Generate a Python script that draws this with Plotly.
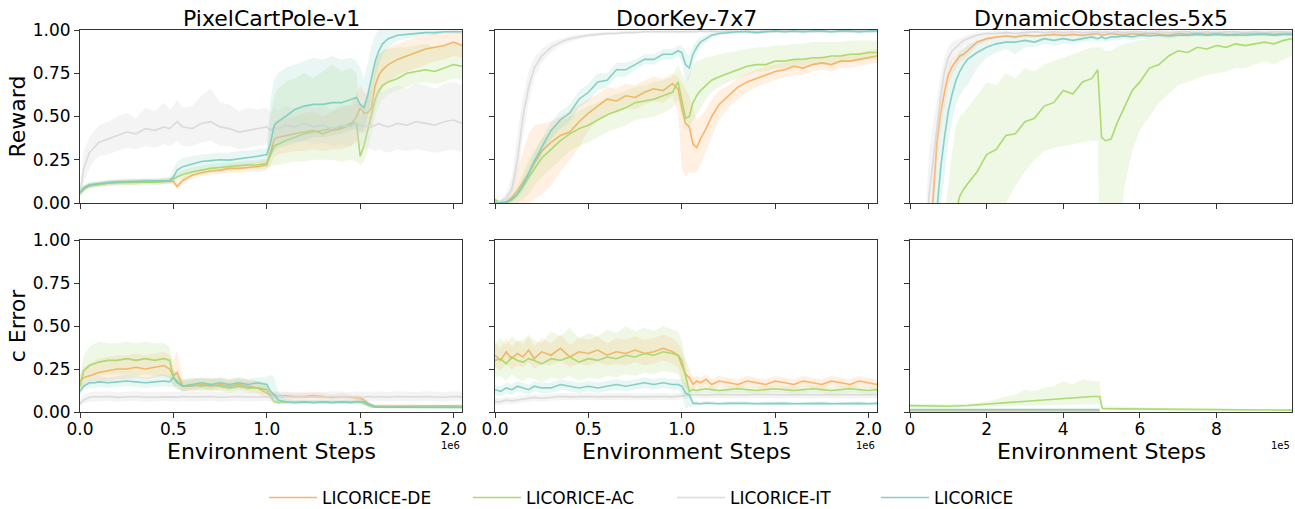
import plotly.graph_objects as go
from plotly.subplots import make_subplots

# ---------------- series names / colours ----------------
SERIES = ["LICORICE-DE", "LICORICE-AC", "LICORICE-IT", "LICORICE"]
COLORS = {"LICORICE-DE": (253, 174, 97), "LICORICE-AC": (166, 217, 106),
          "LICORICE-IT": (217, 217, 217), "LICORICE": (128, 205, 193)}
TITLES = ["PixelCartPole-v1", "DoorKey-7x7", "DynamicObstacles-5x5"]

# ---------------- PixelCartPole (x in 1e6 steps) ----------------
CP_X = [0, 0.02, 0.05, 0.08, 0.1, 0.15, 0.2, 0.25, 0.3, 0.35,
        0.4, 0.45, 0.48, 0.5, 0.52, 0.55, 0.6, 0.65, 0.7, 0.75,
        0.8, 0.85, 0.9, 0.95, 1.0, 1.02, 1.04, 1.06, 1.1, 1.15,
        1.2, 1.25, 1.3, 1.35, 1.4, 1.45, 1.48, 1.5, 1.52, 1.54,
        1.56, 1.58, 1.6, 1.62, 1.65, 1.7, 1.75, 1.8, 1.85, 1.9,
        1.95, 2.0, 2.045]

CP_R_DE = [0.06, 0.08, 0.10, 0.105, 0.11, 0.115, 0.12, 0.118, 0.12, 0.125,
           0.122, 0.125, 0.128, 0.125, 0.095, 0.13, 0.16, 0.175, 0.185, 0.19,
           0.20, 0.20, 0.205, 0.21, 0.22, 0.30, 0.37, 0.38, 0.39, 0.40,
           0.41, 0.42, 0.40, 0.42, 0.43, 0.45, 0.50, 0.55, 0.52, 0.52,
           0.55, 0.68, 0.74, 0.77, 0.80, 0.83, 0.85, 0.87, 0.89, 0.90,
           0.91, 0.93, 0.91]
CP_R_DE_LO = [0.05, 0.065, 0.085, 0.09, 0.095, 0.10, 0.105, 0.102, 0.105, 0.11,
              0.107, 0.11, 0.112, 0.105, 0.08, 0.11, 0.14, 0.155, 0.165, 0.17,
              0.175, 0.175, 0.18, 0.185, 0.19, 0.22, 0.27, 0.28, 0.29, 0.30,
              0.30, 0.31, 0.30, 0.31, 0.31, 0.33, 0.36, 0.42, 0.40, 0.41,
              0.44, 0.55, 0.62, 0.66, 0.70, 0.74, 0.76, 0.78, 0.80, 0.82,
              0.83, 0.85, 0.84]
CP_R_DE_HI = [0.07, 0.095, 0.115, 0.12, 0.125, 0.13, 0.135, 0.134, 0.135, 0.14,
              0.137, 0.14, 0.144, 0.15, 0.12, 0.15, 0.18, 0.195, 0.205, 0.21,
              0.225, 0.225, 0.23, 0.235, 0.25, 0.38, 0.47, 0.48, 0.49, 0.50,
              0.52, 0.53, 0.50, 0.53, 0.55, 0.57, 0.63, 0.68, 0.64, 0.63,
              0.66, 0.80, 0.86, 0.88, 0.90, 0.92, 0.94, 0.96, 0.97, 0.98,
              0.99, 1.00, 0.99]
CP_R_AC = [0.05, 0.08, 0.10, 0.105, 0.11, 0.115, 0.118, 0.12, 0.118, 0.122,
           0.12, 0.125, 0.13, 0.14, 0.15, 0.165, 0.18, 0.19, 0.20, 0.205,
           0.21, 0.215, 0.22, 0.22, 0.23, 0.28, 0.33, 0.34, 0.36, 0.38,
           0.40, 0.41, 0.42, 0.43, 0.44, 0.46, 0.46, 0.27, 0.33, 0.42,
           0.52, 0.60, 0.65, 0.68, 0.70, 0.72, 0.75, 0.76, 0.77, 0.76,
           0.78, 0.80, 0.79]
CP_R_AC_LO = [0.04, 0.065, 0.085, 0.09, 0.095, 0.10, 0.10, 0.102, 0.10, 0.104,
              0.102, 0.106, 0.11, 0.12, 0.13, 0.14, 0.155, 0.165, 0.175, 0.18,
              0.185, 0.19, 0.195, 0.195, 0.20, 0.21, 0.22, 0.22, 0.23, 0.24,
              0.24, 0.25, 0.25, 0.25, 0.24, 0.25, 0.24, 0.22, 0.24, 0.30,
              0.40, 0.50, 0.56, 0.60, 0.63, 0.65, 0.67, 0.69, 0.70, 0.69,
              0.70, 0.72, 0.71]
CP_R_AC_HI = [0.06, 0.095, 0.115, 0.12, 0.125, 0.13, 0.136, 0.138, 0.136, 0.14,
              0.138, 0.144, 0.15, 0.16, 0.17, 0.19, 0.205, 0.215, 0.225, 0.23,
              0.235, 0.24, 0.245, 0.245, 0.26, 0.50, 0.62, 0.66, 0.70, 0.72,
              0.75, 0.72, 0.76, 0.80, 0.76, 0.78, 0.75, 0.50, 0.55, 0.65,
              0.75, 0.82, 0.86, 0.88, 0.89, 0.90, 0.90, 0.91, 0.92, 0.90,
              0.91, 0.93, 0.92]
CP_R_IT = [0.05, 0.20, 0.29, 0.33, 0.35, 0.37, 0.39, 0.41, 0.40, 0.43,
           0.42, 0.44, 0.43, 0.45, 0.47, 0.44, 0.43, 0.46, 0.47, 0.44,
           0.43, 0.41, 0.42, 0.43, 0.44, 0.42, 0.44, 0.43, 0.45, 0.44,
           0.46, 0.44, 0.45, 0.43, 0.45, 0.44, 0.46, 0.45, 0.44, 0.45,
           0.44, 0.45, 0.46, 0.45, 0.44, 0.46, 0.45, 0.47, 0.46, 0.45,
           0.47, 0.48, 0.46]
CP_R_IT_LO = [0.03, 0.12, 0.20, 0.25, 0.27, 0.28, 0.30, 0.32, 0.31, 0.33,
              0.32, 0.34, 0.33, 0.34, 0.36, 0.33, 0.33, 0.35, 0.36, 0.33,
              0.33, 0.31, 0.32, 0.33, 0.34, 0.33, 0.35, 0.34, 0.36, 0.35,
              0.36, 0.34, 0.35, 0.33, 0.34, 0.33, 0.35, 0.33, 0.31, 0.32,
              0.31, 0.30, 0.31, 0.30, 0.29, 0.31, 0.30, 0.31, 0.30, 0.29,
              0.30, 0.31, 0.29]
CP_R_IT_HI = [0.07, 0.30, 0.38, 0.42, 0.45, 0.47, 0.50, 0.52, 0.49, 0.55,
              0.53, 0.58, 0.54, 0.56, 0.60, 0.55, 0.56, 0.62, 0.66, 0.58,
              0.57, 0.53, 0.55, 0.54, 0.55, 0.52, 0.55, 0.53, 0.56, 0.54,
              0.57, 0.55, 0.56, 0.54, 0.57, 0.56, 0.58, 0.57, 0.58, 0.60,
              0.62, 0.63, 0.65, 0.64, 0.66, 0.68, 0.66, 0.69, 0.68, 0.66,
              0.69, 0.70, 0.68]
CP_R_LIC = [0.06, 0.09, 0.105, 0.11, 0.115, 0.12, 0.122, 0.125, 0.125, 0.127,
            0.128, 0.13, 0.13, 0.15, 0.19, 0.21, 0.225, 0.24, 0.245, 0.25,
            0.248, 0.255, 0.26, 0.27, 0.28, 0.35, 0.45, 0.47, 0.50, 0.54,
            0.56, 0.57, 0.57, 0.58, 0.58, 0.60, 0.61, 0.57, 0.55, 0.62,
            0.72, 0.82, 0.88, 0.92, 0.95, 0.97, 0.975, 0.98, 0.985, 0.985,
            0.99, 0.99, 0.99]
CP_R_LIC_LO = [0.05, 0.075, 0.09, 0.095, 0.10, 0.105, 0.107, 0.11, 0.11, 0.112,
               0.113, 0.115, 0.115, 0.12, 0.15, 0.17, 0.19, 0.20, 0.205, 0.21,
               0.21, 0.215, 0.22, 0.23, 0.24, 0.27, 0.30, 0.32, 0.33, 0.35,
               0.36, 0.38, 0.38, 0.39, 0.40, 0.42, 0.43, 0.40, 0.42, 0.50,
               0.60, 0.72, 0.80, 0.86, 0.90, 0.94, 0.95, 0.96, 0.97, 0.97,
               0.98, 0.98, 0.98]
CP_R_LIC_HI = [0.07, 0.105, 0.12, 0.125, 0.13, 0.135, 0.137, 0.14, 0.14, 0.142,
               0.143, 0.145, 0.145, 0.20, 0.24, 0.26, 0.27, 0.28, 0.285, 0.29,
               0.29, 0.30, 0.30, 0.31, 0.32, 0.60, 0.72, 0.75, 0.78, 0.80,
               0.82, 0.84, 0.83, 0.85, 0.83, 0.84, 0.82, 0.78, 0.72, 0.80,
               0.90, 0.97, 1.0, 1.0, 1.0, 1.0, 1.0, 1.0, 1.0, 1.0,
               1.0, 1.0, 1.0]

CP_E_DE = [0.18, 0.20, 0.21, 0.22, 0.23, 0.24, 0.25, 0.25, 0.26, 0.25,
           0.26, 0.27, 0.25, 0.21, 0.23, 0.15, 0.15, 0.16, 0.15, 0.16,
           0.15, 0.16, 0.15, 0.14, 0.11, 0.10, 0.10, 0.09, 0.095, 0.09,
           0.09, 0.095, 0.09, 0.085, 0.09, 0.085, 0.08, 0.08, 0.07, 0.05,
           0.04, 0.035, 0.035, 0.036, 0.035, 0.034, 0.035, 0.036, 0.035, 0.034,
           0.035, 0.036, 0.035]
CP_E_DE_LO = [0.14, 0.15, 0.16, 0.17, 0.17, 0.18, 0.19, 0.19, 0.20, 0.19,
              0.20, 0.21, 0.19, 0.15, 0.15, 0.12, 0.12, 0.13, 0.12, 0.13,
              0.12, 0.13, 0.12, 0.11, 0.08, 0.08, 0.08, 0.075, 0.08, 0.075,
              0.075, 0.08, 0.075, 0.07, 0.075, 0.07, 0.065, 0.065, 0.055, 0.04,
              0.03, 0.027, 0.027, 0.028, 0.027, 0.026, 0.027, 0.028, 0.027, 0.026,
              0.027, 0.028, 0.027]
CP_E_DE_HI = [0.22, 0.26, 0.28, 0.30, 0.31, 0.32, 0.33, 0.33, 0.34, 0.33,
              0.34, 0.35, 0.33, 0.30, 0.36, 0.19, 0.19, 0.20, 0.19, 0.20,
              0.19, 0.20, 0.19, 0.18, 0.15, 0.12, 0.12, 0.11, 0.115, 0.11,
              0.11, 0.115, 0.11, 0.10, 0.11, 0.10, 0.095, 0.095, 0.085, 0.065,
              0.05, 0.045, 0.045, 0.046, 0.045, 0.044, 0.045, 0.046, 0.045, 0.044,
              0.045, 0.046, 0.045]
CP_E_AC = [0.15, 0.24, 0.27, 0.28, 0.29, 0.30, 0.30, 0.31, 0.30, 0.31,
           0.30, 0.31, 0.30, 0.20, 0.18, 0.15, 0.16, 0.15, 0.16, 0.15,
           0.14, 0.15, 0.14, 0.14, 0.13, 0.09, 0.06, 0.055, 0.06, 0.055,
           0.06, 0.055, 0.06, 0.055, 0.06, 0.055, 0.06, 0.06, 0.05, 0.04,
           0.03, 0.028, 0.028, 0.027, 0.028, 0.027, 0.028, 0.027, 0.028, 0.027,
           0.028, 0.027, 0.028]
CP_E_AC_LO = [0.10, 0.18, 0.20, 0.21, 0.21, 0.22, 0.22, 0.22, 0.21, 0.22,
              0.21, 0.21, 0.20, 0.15, 0.14, 0.12, 0.13, 0.12, 0.13, 0.12,
              0.11, 0.12, 0.11, 0.11, 0.10, 0.07, 0.045, 0.045, 0.048, 0.045,
              0.048, 0.045, 0.048, 0.045, 0.048, 0.045, 0.048, 0.048, 0.04, 0.03,
              0.022, 0.02, 0.02, 0.02, 0.02, 0.02, 0.02, 0.02, 0.02, 0.02,
              0.02, 0.02, 0.02]
CP_E_AC_HI = [0.20, 0.33, 0.38, 0.40, 0.41, 0.40, 0.40, 0.41, 0.40, 0.41,
              0.40, 0.40, 0.38, 0.25, 0.22, 0.19, 0.20, 0.19, 0.20, 0.19,
              0.18, 0.19, 0.18, 0.18, 0.17, 0.12, 0.075, 0.07, 0.072, 0.068,
              0.072, 0.068, 0.072, 0.068, 0.072, 0.068, 0.072, 0.075, 0.065, 0.05,
              0.038, 0.035, 0.035, 0.034, 0.035, 0.034, 0.035, 0.034, 0.035, 0.034,
              0.035, 0.034, 0.035]
CP_E_IT = [0.05, 0.07, 0.085, 0.09, 0.088, 0.09, 0.085, 0.088, 0.09, 0.086,
           0.088, 0.09, 0.087, 0.088, 0.086, 0.09, 0.087, 0.088, 0.09, 0.086,
           0.088, 0.09, 0.087, 0.088, 0.09, 0.088, 0.086, 0.09, 0.088, 0.087,
           0.09, 0.088, 0.086, 0.09, 0.088, 0.087, 0.09, 0.088, 0.086, 0.09,
           0.088, 0.087, 0.09, 0.088, 0.086, 0.09, 0.088, 0.087, 0.09, 0.088,
           0.086, 0.09, 0.088]
CP_E_IT_LO = [0.03, 0.05, 0.06, 0.065, 0.062, 0.065, 0.06, 0.062, 0.065, 0.06,
              0.062, 0.065, 0.061, 0.062, 0.06, 0.065, 0.061, 0.062, 0.065, 0.06,
              0.062, 0.065, 0.061, 0.062, 0.065, 0.062, 0.06, 0.065, 0.062, 0.061,
              0.065, 0.062, 0.06, 0.065, 0.062, 0.061, 0.065, 0.062, 0.06, 0.065,
              0.062, 0.061, 0.065, 0.062, 0.06, 0.065, 0.062, 0.061, 0.065, 0.062,
              0.06, 0.065, 0.062]
CP_E_IT_HI = [0.07, 0.10, 0.115, 0.12, 0.118, 0.12, 0.115, 0.118, 0.12, 0.116,
              0.118, 0.12, 0.117, 0.118, 0.116, 0.12, 0.117, 0.118, 0.12, 0.116,
              0.118, 0.12, 0.117, 0.118, 0.12, 0.118, 0.116, 0.12, 0.118, 0.117,
              0.12, 0.118, 0.116, 0.12, 0.118, 0.117, 0.12, 0.118, 0.116, 0.12,
              0.118, 0.117, 0.12, 0.118, 0.116, 0.12, 0.118, 0.117, 0.12, 0.118,
              0.116, 0.12, 0.118]
CP_E_LIC = [0.12, 0.15, 0.17, 0.17, 0.175, 0.17, 0.175, 0.18, 0.175, 0.17,
            0.175, 0.18, 0.175, 0.20, 0.17, 0.15, 0.16, 0.17, 0.16, 0.17,
            0.16, 0.17, 0.16, 0.17, 0.16, 0.12, 0.10, 0.07, 0.06, 0.055,
            0.058, 0.055, 0.058, 0.055, 0.058, 0.056, 0.06, 0.06, 0.06, 0.05,
            0.04, 0.03, 0.028, 0.028, 0.027, 0.028, 0.027, 0.028, 0.027, 0.028,
            0.027, 0.028, 0.027]
CP_E_LIC_LO = [0.10, 0.13, 0.14, 0.14, 0.145, 0.14, 0.145, 0.15, 0.145, 0.14,
               0.145, 0.15, 0.145, 0.15, 0.13, 0.12, 0.13, 0.14, 0.13, 0.14,
               0.13, 0.14, 0.13, 0.14, 0.12, 0.08, 0.07, 0.05, 0.045, 0.045,
               0.047, 0.045, 0.047, 0.045, 0.047, 0.045, 0.048, 0.048, 0.045, 0.035,
               0.03, 0.022, 0.02, 0.02, 0.02, 0.02, 0.02, 0.02, 0.02, 0.02,
               0.02, 0.02, 0.02]
CP_E_LIC_HI = [0.14, 0.18, 0.20, 0.21, 0.21, 0.20, 0.21, 0.22, 0.21, 0.20,
               0.21, 0.22, 0.21, 0.25, 0.21, 0.18, 0.19, 0.20, 0.19, 0.20,
               0.19, 0.20, 0.19, 0.20, 0.20, 0.22, 0.20, 0.12, 0.08, 0.07,
               0.07, 0.068, 0.07, 0.068, 0.07, 0.068, 0.072, 0.075, 0.075, 0.065,
               0.05, 0.038, 0.035, 0.035, 0.034, 0.035, 0.034, 0.035, 0.034, 0.035,
               0.034, 0.035, 0.034]

# ---------------- DoorKey (x in 1e6 steps) ----------------
DK_X = [0, 0.03, 0.06, 0.09, 0.12, 0.15, 0.18, 0.21, 0.25, 0.3,
        0.35, 0.4, 0.45, 0.5, 0.55, 0.6, 0.65, 0.7, 0.75, 0.8,
        0.85, 0.9, 0.95, 0.98, 1.0, 1.02, 1.04, 1.06, 1.08, 1.1,
        1.13, 1.16, 1.2, 1.25, 1.3, 1.35, 1.4, 1.45, 1.5, 1.55,
        1.6, 1.65, 1.7, 1.75, 1.8, 1.85, 1.9, 1.95, 2.0, 2.045]

DK_R_DE = [0.01, 0.0, 0.005, 0.03, 0.07, 0.12, 0.17, 0.23, 0.30, 0.35,
           0.39, 0.41, 0.47, 0.52, 0.56, 0.60, 0.59, 0.62, 0.61, 0.64,
           0.66, 0.65, 0.69, 0.66, 0.55, 0.46, 0.44, 0.34, 0.32, 0.37,
           0.43, 0.50, 0.57, 0.62, 0.67, 0.70, 0.72, 0.74, 0.76, 0.77,
           0.79, 0.78, 0.80, 0.81, 0.80, 0.82, 0.82, 0.83, 0.84, 0.85]
DK_R_DE_LO = [0.0, 0.0, 0.0, 0.0, 0.0, 0.0, 0.0, 0.02, 0.05, 0.10,
              0.18, 0.25, 0.32, 0.42, 0.48, 0.52, 0.52, 0.55, 0.54, 0.57,
              0.59, 0.58, 0.62, 0.52, 0.20, 0.15, 0.18, 0.17, 0.18, 0.22,
              0.30, 0.38, 0.48, 0.55, 0.60, 0.64, 0.67, 0.69, 0.71, 0.73,
              0.74, 0.74, 0.76, 0.77, 0.76, 0.78, 0.78, 0.79, 0.80, 0.81]
DK_R_DE_HI = [0.02, 0.01, 0.03, 0.10, 0.20, 0.30, 0.40, 0.45, 0.46, 0.47,
              0.50, 0.53, 0.57, 0.60, 0.63, 0.67, 0.66, 0.69, 0.68, 0.71,
              0.73, 0.72, 0.75, 0.73, 0.70, 0.66, 0.62, 0.55, 0.48, 0.50,
              0.54, 0.60, 0.65, 0.68, 0.72, 0.75, 0.77, 0.79, 0.80, 0.81,
              0.83, 0.82, 0.84, 0.85, 0.84, 0.86, 0.86, 0.87, 0.88, 0.89]
DK_R_AC = [0.02, 0.0, 0.0, 0.02, 0.05, 0.10, 0.15, 0.20, 0.26, 0.31,
           0.36, 0.40, 0.43, 0.45, 0.48, 0.51, 0.53, 0.55, 0.58, 0.59,
           0.60, 0.62, 0.64, 0.70, 0.60, 0.49, 0.50, 0.58, 0.62, 0.65,
           0.68, 0.71, 0.73, 0.75, 0.77, 0.79, 0.80, 0.80, 0.82, 0.82,
           0.83, 0.83, 0.84, 0.84, 0.85, 0.85, 0.86, 0.86, 0.87, 0.87]
DK_R_AC_LO = [0.0, 0.0, 0.0, 0.0, 0.0, 0.02, 0.05, 0.10, 0.15, 0.20,
              0.25, 0.30, 0.33, 0.35, 0.38, 0.41, 0.43, 0.45, 0.48, 0.49,
              0.50, 0.52, 0.55, 0.60, 0.50, 0.42, 0.43, 0.48, 0.52, 0.55,
              0.60, 0.64, 0.67, 0.70, 0.72, 0.74, 0.76, 0.76, 0.78, 0.78,
              0.79, 0.79, 0.80, 0.80, 0.81, 0.81, 0.82, 0.82, 0.83, 0.83]
DK_R_AC_HI = [0.03, 0.01, 0.01, 0.05, 0.10, 0.18, 0.25, 0.30, 0.37, 0.42,
              0.47, 0.50, 0.53, 0.56, 0.58, 0.61, 0.63, 0.65, 0.67, 0.68,
              0.70, 0.71, 0.73, 0.80, 0.75, 0.70, 0.74, 0.80, 0.82, 0.83,
              0.84, 0.85, 0.86, 0.87, 0.88, 0.89, 0.90, 0.90, 0.91, 0.91,
              0.92, 0.92, 0.93, 0.93, 0.93, 0.93, 0.94, 0.94, 0.94, 0.94]
DK_R_IT = [0.0, 0.01, 0.03, 0.08, 0.25, 0.50, 0.67, 0.78, 0.85, 0.90,
           0.93, 0.95, 0.96, 0.97, 0.975, 0.98, 0.98, 0.985, 0.985, 0.99,
           0.99, 0.99, 0.99, 0.99, 0.99, 0.99, 0.99, 0.99, 0.99, 0.995,
           0.99, 0.995, 0.99, 0.995, 0.99, 0.995, 0.99, 0.995, 0.99, 0.995,
           0.99, 0.995, 0.99, 0.995, 0.99, 0.995, 0.99, 0.995, 0.99, 0.995]
DK_R_IT_LO = [0.0, 0.0, 0.01, 0.04, 0.15, 0.38, 0.58, 0.72, 0.81, 0.87,
              0.91, 0.93, 0.95, 0.96, 0.965, 0.97, 0.975, 0.98, 0.98, 0.985,
              0.985, 0.98, 0.985, 0.98, 0.985, 0.98, 0.985, 0.98, 0.985, 0.98,
              0.985, 0.98, 0.985, 0.98, 0.985, 0.98, 0.985, 0.98, 0.985, 0.98,
              0.985, 0.98, 0.985, 0.98, 0.985, 0.98, 0.985, 0.98, 0.985, 0.98]
DK_R_IT_HI = [0.01, 0.02, 0.06, 0.15, 0.40, 0.62, 0.76, 0.84, 0.89, 0.93,
              0.95, 0.965, 0.975, 0.98, 0.985, 0.99, 0.99, 0.995, 0.995, 1.0,
              1.0, 1.0, 1.0, 1.0, 1.0, 1.0, 1.0, 1.0, 1.0, 1.0,
              1.0, 1.0, 1.0, 1.0, 1.0, 1.0, 1.0, 1.0, 1.0, 1.0,
              1.0, 1.0, 1.0, 1.0, 1.0, 1.0, 1.0, 1.0, 1.0, 1.0]
DK_R_LIC = [0.0, 0.0, 0.005, 0.02, 0.05, 0.10, 0.17, 0.24, 0.32, 0.42,
            0.48, 0.52, 0.60, 0.64, 0.70, 0.71, 0.77, 0.77, 0.80, 0.83,
            0.83, 0.86, 0.86, 0.88, 0.87, 0.80, 0.78, 0.86, 0.90, 0.93,
            0.95, 0.97, 0.98, 0.985, 0.99, 0.99, 0.985, 0.99, 0.995, 0.99,
            0.995, 0.99, 0.995, 0.995, 0.99, 0.995, 0.995, 0.99, 0.995, 0.995]
DK_R_LIC_LO = [0.0, 0.0, 0.0, 0.005, 0.03, 0.07, 0.13, 0.20, 0.28, 0.37,
               0.43, 0.47, 0.55, 0.59, 0.65, 0.67, 0.73, 0.73, 0.77, 0.80,
               0.80, 0.83, 0.83, 0.85, 0.82, 0.70, 0.72, 0.80, 0.86, 0.90,
               0.93, 0.955, 0.97, 0.975, 0.98, 0.98, 0.975, 0.98, 0.985, 0.98,
               0.985, 0.98, 0.985, 0.985, 0.98, 0.985, 0.985, 0.98, 0.985, 0.985]
DK_R_LIC_HI = [0.005, 0.01, 0.02, 0.04, 0.08, 0.14, 0.21, 0.29, 0.37, 0.47,
               0.53, 0.57, 0.65, 0.69, 0.75, 0.75, 0.81, 0.81, 0.83, 0.86,
               0.86, 0.89, 0.89, 0.91, 0.91, 0.88, 0.85, 0.91, 0.94, 0.96,
               0.97, 0.985, 0.99, 0.995, 1.0, 1.0, 0.995, 1.0, 1.0, 1.0,
               1.0, 1.0, 1.0, 1.0, 1.0, 1.0, 1.0, 1.0, 1.0, 1.0]

DK_E_DE = [0.33, 0.30, 0.35, 0.31, 0.34, 0.32, 0.36, 0.31, 0.35, 0.33,
           0.37, 0.32, 0.35, 0.34, 0.36, 0.33, 0.35, 0.34, 0.36, 0.34,
           0.35, 0.37, 0.35, 0.33, 0.27, 0.22, 0.20, 0.16, 0.18, 0.17,
           0.19, 0.16, 0.18, 0.17, 0.16, 0.18, 0.17, 0.16, 0.18, 0.17,
           0.16, 0.18, 0.17, 0.16, 0.18, 0.17, 0.16, 0.18, 0.17, 0.16]
DK_E_DE_LO = [0.26, 0.24, 0.28, 0.25, 0.27, 0.26, 0.29, 0.25, 0.28, 0.27,
              0.30, 0.26, 0.28, 0.27, 0.29, 0.27, 0.28, 0.27, 0.29, 0.27,
              0.28, 0.30, 0.28, 0.26, 0.18, 0.14, 0.13, 0.13, 0.15, 0.14,
              0.16, 0.13, 0.15, 0.14, 0.13, 0.15, 0.14, 0.13, 0.15, 0.14,
              0.13, 0.15, 0.14, 0.13, 0.15, 0.14, 0.13, 0.15, 0.14, 0.13]
DK_E_DE_HI = [0.40, 0.37, 0.43, 0.38, 0.42, 0.39, 0.44, 0.38, 0.43, 0.40,
              0.45, 0.39, 0.43, 0.42, 0.44, 0.40, 0.43, 0.42, 0.44, 0.42,
              0.43, 0.45, 0.43, 0.40, 0.36, 0.30, 0.26, 0.20, 0.21, 0.20,
              0.22, 0.19, 0.21, 0.20, 0.19, 0.21, 0.20, 0.19, 0.21, 0.20,
              0.19, 0.21, 0.20, 0.19, 0.21, 0.20, 0.19, 0.21, 0.20, 0.19]
DK_E_AC = [0.30, 0.31, 0.28, 0.32, 0.30, 0.29, 0.31, 0.30, 0.28, 0.31,
           0.30, 0.32, 0.29, 0.31, 0.30, 0.32, 0.31, 0.33, 0.32, 0.34,
           0.33, 0.35, 0.34, 0.33, 0.30, 0.20, 0.12, 0.13, 0.125, 0.13,
           0.135, 0.13, 0.125, 0.13, 0.135, 0.13, 0.125, 0.13, 0.135, 0.13,
           0.125, 0.13, 0.135, 0.13, 0.125, 0.13, 0.135, 0.13, 0.125, 0.13]
DK_E_AC_LO = [0.20, 0.21, 0.18, 0.22, 0.19, 0.18, 0.20, 0.19, 0.17, 0.20,
              0.19, 0.21, 0.18, 0.20, 0.19, 0.21, 0.20, 0.22, 0.21, 0.23,
              0.22, 0.24, 0.23, 0.22, 0.18, 0.10, 0.10, 0.11, 0.105, 0.11,
              0.115, 0.11, 0.105, 0.11, 0.115, 0.11, 0.105, 0.11, 0.115, 0.11,
              0.105, 0.11, 0.115, 0.11, 0.105, 0.11, 0.115, 0.11, 0.105, 0.11]
DK_E_AC_HI = [0.40, 0.43, 0.39, 0.44, 0.41, 0.42, 0.45, 0.42, 0.40, 0.47,
              0.44, 0.49, 0.43, 0.46, 0.44, 0.48, 0.46, 0.50, 0.47, 0.49,
              0.47, 0.50, 0.48, 0.47, 0.42, 0.30, 0.15, 0.15, 0.145, 0.15,
              0.155, 0.15, 0.145, 0.15, 0.155, 0.15, 0.145, 0.15, 0.155, 0.15,
              0.145, 0.15, 0.155, 0.15, 0.145, 0.15, 0.155, 0.15, 0.145, 0.15]
DK_E_IT = [0.06, 0.06, 0.07, 0.065, 0.07, 0.075, 0.08, 0.085, 0.08, 0.085,
           0.09, 0.088, 0.09, 0.09, 0.088, 0.09, 0.092, 0.09, 0.088, 0.09,
           0.092, 0.09, 0.088, 0.09, 0.092, 0.095, 0.098, 0.10, 0.098, 0.10,
           0.098, 0.10, 0.102, 0.10, 0.098, 0.10, 0.102, 0.10, 0.098, 0.10,
           0.102, 0.10, 0.098, 0.10, 0.102, 0.10, 0.098, 0.10, 0.102, 0.10]
DK_E_IT_LO = [0.04, 0.04, 0.05, 0.045, 0.05, 0.055, 0.06, 0.065, 0.06, 0.065,
              0.07, 0.068, 0.07, 0.07, 0.068, 0.07, 0.072, 0.07, 0.068, 0.07,
              0.072, 0.07, 0.068, 0.07, 0.072, 0.075, 0.078, 0.08, 0.078, 0.08,
              0.078, 0.08, 0.082, 0.08, 0.078, 0.08, 0.082, 0.08, 0.078, 0.08,
              0.082, 0.08, 0.078, 0.08, 0.082, 0.08, 0.078, 0.08, 0.082, 0.08]
DK_E_IT_HI = [0.08, 0.08, 0.09, 0.085, 0.09, 0.095, 0.10, 0.105, 0.10, 0.105,
              0.11, 0.108, 0.11, 0.11, 0.108, 0.11, 0.112, 0.11, 0.108, 0.11,
              0.112, 0.11, 0.108, 0.11, 0.112, 0.115, 0.118, 0.12, 0.118, 0.12,
              0.118, 0.12, 0.122, 0.12, 0.118, 0.12, 0.122, 0.12, 0.118, 0.12,
              0.122, 0.12, 0.118, 0.12, 0.122, 0.12, 0.118, 0.12, 0.122, 0.12]
DK_E_LIC = [0.13, 0.12, 0.14, 0.13, 0.15, 0.14, 0.13, 0.15, 0.14, 0.14,
            0.16, 0.15, 0.14, 0.15, 0.14, 0.15, 0.16, 0.15, 0.16, 0.17,
            0.16, 0.17, 0.16, 0.16, 0.15, 0.11, 0.10, 0.05, 0.05, 0.048,
            0.052, 0.05, 0.048, 0.05, 0.052, 0.05, 0.048, 0.05, 0.052, 0.05,
            0.048, 0.05, 0.052, 0.05, 0.048, 0.05, 0.052, 0.05, 0.048, 0.05]
DK_E_LIC_LO = [0.10, 0.09, 0.11, 0.10, 0.12, 0.11, 0.10, 0.12, 0.11, 0.11,
               0.13, 0.12, 0.11, 0.12, 0.11, 0.12, 0.13, 0.12, 0.13, 0.14,
               0.13, 0.14, 0.13, 0.13, 0.11, 0.02, 0.03, 0.035, 0.038, 0.036,
               0.04, 0.038, 0.036, 0.038, 0.04, 0.038, 0.036, 0.038, 0.04, 0.038,
               0.036, 0.038, 0.04, 0.038, 0.036, 0.038, 0.04, 0.038, 0.036, 0.038]
DK_E_LIC_HI = [0.16, 0.15, 0.17, 0.16, 0.18, 0.17, 0.16, 0.18, 0.17, 0.17,
               0.19, 0.18, 0.17, 0.18, 0.17, 0.18, 0.19, 0.18, 0.19, 0.20,
               0.19, 0.20, 0.19, 0.19, 0.19, 0.16, 0.13, 0.065, 0.062, 0.06,
               0.064, 0.062, 0.06, 0.062, 0.064, 0.062, 0.06, 0.062, 0.064, 0.062,
               0.06, 0.062, 0.064, 0.062, 0.06, 0.062, 0.064, 0.062, 0.06, 0.062]

# ---------------- DynamicObstacles (x in 1e5 steps) ----------------
DO_X = [0, 0.25, 0.5, 0.6, 0.7, 0.8, 0.9, 1.0, 1.1, 1.2,
        1.3, 1.4, 1.5, 1.75, 2.0, 2.25, 2.5, 2.75, 3.0, 3.25,
        3.5, 3.75, 4.0, 4.25, 4.5, 4.75, 4.9, 5.0, 5.1, 5.25,
        5.4, 5.6, 5.8, 6.0, 6.25, 6.5, 6.75, 7.0, 7.25, 7.5,
        7.75, 8.0, 8.25, 8.5, 8.75, 9.0, 9.25, 9.5, 9.75, 9.97]

DO_R_DE = [-1.0, -0.95, -0.40, 0.02, 0.34, 0.52, 0.64, 0.74, 0.79, 0.82,
           0.85, 0.86, 0.88, 0.93, 0.95, 0.96, 0.965, 0.96, 0.97, 0.965,
           0.97, 0.975, 0.97, 0.975, 0.97, 0.975, 0.98, 0.97, 0.975, 0.98,
           0.975, 0.97, 0.98, 0.975, 0.98, 0.975, 0.97, 0.98, 0.975, 0.98,
           0.975, 0.98, 0.975, 0.97, 0.98, 0.975, 0.98, 0.975, 0.98, 0.975]
DO_R_DE_LO = [-1.0, -1.0, -0.60, -0.10, 0.20, 0.42, 0.56, 0.68, 0.74, 0.78,
              0.82, 0.83, 0.85, 0.91, 0.935, 0.95, 0.955, 0.95, 0.96, 0.955,
              0.96, 0.965, 0.96, 0.965, 0.96, 0.965, 0.97, 0.96, 0.965, 0.97,
              0.965, 0.96, 0.97, 0.965, 0.97, 0.965, 0.96, 0.97, 0.965, 0.97,
              0.965, 0.97, 0.965, 0.96, 0.97, 0.965, 0.97, 0.965, 0.97, 0.965]
DO_R_DE_HI = [-1.0, -0.85, -0.15, 0.15, 0.48, 0.62, 0.72, 0.80, 0.84, 0.86,
              0.88, 0.89, 0.91, 0.95, 0.965, 0.97, 0.975, 0.97, 0.98, 0.975,
              0.98, 0.985, 0.98, 0.985, 0.98, 0.985, 0.99, 0.98, 0.985, 0.99,
              0.985, 0.98, 0.99, 0.985, 0.99, 0.985, 0.98, 0.99, 0.985, 0.99,
              0.985, 0.99, 0.985, 0.98, 0.99, 0.985, 0.99, 0.985, 0.99, 0.985]
DO_R_AC = [-1.0, -1.0, -0.90, -0.80, -0.70, -0.60, -0.50, -0.35, -0.20, -0.05,
           0.04, 0.08, 0.11, 0.18, 0.28, 0.31, 0.39, 0.40, 0.47, 0.49,
           0.56, 0.58, 0.65, 0.63, 0.70, 0.72, 0.77, 0.38, 0.36, 0.37,
           0.46, 0.56, 0.65, 0.70, 0.78, 0.80, 0.85, 0.88, 0.87, 0.90,
           0.89, 0.91, 0.90, 0.92, 0.91, 0.92, 0.93, 0.92, 0.94, 0.95]
DO_R_AC_LO = [-1.0, -1.0, -1.0, -1.0, -1.0, -1.0, -1.0, -1.0, -1.0, -0.90,
              -0.80, -0.70, -0.60, -0.40, -0.25, -0.10, 0.0, 0.10, 0.18, 0.25,
              0.30, 0.32, 0.33, 0.34, 0.35, 0.36, 0.36, -1.0, -1.0, -1.0,
              -0.30, 0.10, 0.30, 0.42, 0.50, 0.58, 0.63, 0.68, 0.70, 0.72,
              0.74, 0.75, 0.76, 0.78, 0.78, 0.80, 0.82, 0.80, 0.83, 0.85]
DO_R_AC_HI = [-1.0, -0.90, -0.70, -0.50, -0.35, -0.20, -0.05, 0.10, 0.30, 0.45,
              0.50, 0.52, 0.55, 0.62, 0.70, 0.68, 0.75, 0.72, 0.78, 0.76,
              0.80, 0.82, 0.84, 0.86, 0.88, 0.90, 0.90, 0.90, 0.88, 0.88,
              0.90, 0.92, 0.93, 0.94, 0.95, 0.96, 0.97, 0.97, 0.97, 0.98,
              0.97, 0.98, 0.98, 0.98, 0.97, 0.98, 0.98, 0.98, 0.98, 0.98]
DO_R_IT = [-1.0, -0.90, 0.05, 0.25, 0.45, 0.62, 0.76, 0.84, 0.88, 0.90,
           0.92, 0.94, 0.95, 0.97, 0.98, 0.98, 0.985, 0.98, 0.985, 0.99,
           0.985, 0.99, 0.985, 0.99, 0.985, 0.99, 0.99, 0.985, 0.99, 0.985,
           0.99, 0.985, 0.99, 0.99, 0.985, 0.99, 0.985, 0.99, 0.99, 0.985,
           0.99, 0.985, 0.99, 0.99, 0.985, 0.99, 0.985, 0.99, 0.99, 0.985]
DO_R_IT_LO = [-1.0, -1.0, -0.30, 0.05, 0.30, 0.50, 0.66, 0.76, 0.82, 0.86,
              0.88, 0.91, 0.92, 0.95, 0.965, 0.965, 0.97, 0.965, 0.97, 0.975,
              0.97, 0.975, 0.97, 0.975, 0.97, 0.975, 0.975, 0.97, 0.975, 0.97,
              0.975, 0.97, 0.975, 0.975, 0.97, 0.975, 0.97, 0.975, 0.975, 0.97,
              0.975, 0.97, 0.975, 0.975, 0.97, 0.975, 0.97, 0.975, 0.975, 0.97]
DO_R_IT_HI = [-1.0, -0.70, 0.30, 0.45, 0.60, 0.74, 0.84, 0.90, 0.93, 0.94,
              0.95, 0.96, 0.97, 0.985, 0.99, 0.995, 1.0, 0.995, 1.0, 1.0,
              1.0, 1.0, 1.0, 1.0, 1.0, 1.0, 1.0, 1.0, 1.0, 1.0,
              1.0, 1.0, 1.0, 1.0, 1.0, 1.0, 1.0, 1.0, 1.0, 1.0,
              1.0, 1.0, 1.0, 1.0, 1.0, 1.0, 1.0, 1.0, 1.0, 1.0]
DO_R_LIC = [-1.0, -1.0, -0.70, -0.30, -0.05, 0.20, 0.38, 0.53, 0.63, 0.71,
            0.76, 0.80, 0.83, 0.87, 0.90, 0.92, 0.93, 0.93, 0.94, 0.93,
            0.95, 0.94, 0.95, 0.94, 0.95, 0.96, 0.95, 0.96, 0.95, 0.96,
            0.96, 0.965, 0.96, 0.97, 0.965, 0.97, 0.965, 0.97, 0.97, 0.975,
            0.97, 0.975, 0.97, 0.975, 0.97, 0.975, 0.975, 0.97, 0.975, 0.975]
DO_R_LIC_LO = [-1.0, -1.0, -0.90, -0.60, -0.35, -0.10, 0.15, 0.35, 0.48, 0.57,
               0.62, 0.66, 0.68, 0.78, 0.84, 0.87, 0.89, 0.86, 0.90, 0.90,
               0.92, 0.91, 0.92, 0.92, 0.93, 0.94, 0.93, 0.94, 0.93, 0.94,
               0.94, 0.95, 0.94, 0.95, 0.95, 0.96, 0.95, 0.96, 0.96, 0.965,
               0.96, 0.965, 0.96, 0.965, 0.96, 0.965, 0.965, 0.96, 0.965, 0.965]
DO_R_LIC_HI = [-1.0, -0.90, -0.40, 0.0, 0.25, 0.45, 0.60, 0.70, 0.78, 0.84,
               0.88, 0.90, 0.92, 0.94, 0.95, 0.96, 0.965, 0.965, 0.97, 0.965,
               0.975, 0.97, 0.975, 0.97, 0.975, 0.98, 0.975, 0.98, 0.975, 0.98,
               0.98, 0.985, 0.98, 0.985, 0.98, 0.985, 0.98, 0.985, 0.985, 0.99,
               0.985, 0.99, 0.985, 0.99, 0.985, 0.99, 0.99, 0.985, 0.99, 0.99]

DO_EX = [0, 0.5, 1.0, 1.5, 2.0, 2.25, 2.5, 2.75, 3.0, 3.25,
         3.5, 3.75, 4.0, 4.25, 4.5, 4.75, 4.95, 5.02, 5.5, 6.0,
         6.5, 7.0, 7.5, 8.0, 8.5, 9.0, 9.5, 9.97]
DO_EX_SHORT = [0, 0.5, 1.0, 1.5, 2.0, 2.25, 2.5, 2.75, 3.0, 3.25,
               3.5, 3.75, 4.0, 4.25, 4.5, 4.75, 4.95]
DO_E_AC = [0.037, 0.035, 0.033, 0.038, 0.046, 0.05, 0.054, 0.058, 0.062, 0.066,
           0.07, 0.075, 0.08, 0.083, 0.088, 0.09, 0.09, 0.02, 0.018, 0.017,
           0.015, 0.014, 0.013, 0.013, 0.012, 0.012, 0.011, 0.011]
DO_E_AC_LO = [0.025, 0.025, 0.024, 0.027, 0.03, 0.032, 0.033, 0.034, 0.035, 0.036,
              0.037, 0.038, 0.04, 0.04, 0.042, 0.043, 0.043, 0.01, 0.008, 0.007,
              0.006, 0.006, 0.005, 0.005, 0.005, 0.005, 0.004, 0.004]
DO_E_AC_HI = [0.05, 0.048, 0.045, 0.05, 0.06, 0.075, 0.09, 0.10, 0.13, 0.12,
              0.14, 0.15, 0.18, 0.16, 0.19, 0.18, 0.18, 0.035, 0.03, 0.028,
              0.025, 0.022, 0.02, 0.02, 0.018, 0.018, 0.017, 0.017]
DO_E_DE = [0.006, 0.006, 0.006, 0.006, 0.006, 0.006, 0.006, 0.006, 0.006, 0.006,
           0.006, 0.006, 0.006, 0.006, 0.006, 0.006, 0.006]
DO_E_IT = [0.003, 0.003, 0.003, 0.003, 0.003, 0.003, 0.003, 0.003, 0.003, 0.003,
           0.003, 0.003, 0.003, 0.003, 0.003, 0.003, 0.003]
DO_E_LIC = [0.014, 0.014, 0.013, 0.014, 0.014, 0.013, 0.014, 0.014, 0.013, 0.014,
            0.014, 0.013, 0.014, 0.014, 0.013, 0.014, 0.014]

# ---------------- assemble panels ----------------
PANELS = {
    (1, 1): {"LICORICE-DE": (CP_X, CP_R_DE, CP_R_DE_LO, CP_R_DE_HI),
             "LICORICE-AC": (CP_X, CP_R_AC, CP_R_AC_LO, CP_R_AC_HI),
             "LICORICE-IT": (CP_X, CP_R_IT, CP_R_IT_LO, CP_R_IT_HI),
             "LICORICE": (CP_X, CP_R_LIC, CP_R_LIC_LO, CP_R_LIC_HI)},
    (1, 2): {"LICORICE-DE": (DK_X, DK_R_DE, DK_R_DE_LO, DK_R_DE_HI),
             "LICORICE-AC": (DK_X, DK_R_AC, DK_R_AC_LO, DK_R_AC_HI),
             "LICORICE-IT": (DK_X, DK_R_IT, DK_R_IT_LO, DK_R_IT_HI),
             "LICORICE": (DK_X, DK_R_LIC, DK_R_LIC_LO, DK_R_LIC_HI)},
    (1, 3): {"LICORICE-DE": (DO_X, DO_R_DE, DO_R_DE_LO, DO_R_DE_HI),
             "LICORICE-AC": (DO_X, DO_R_AC, DO_R_AC_LO, DO_R_AC_HI),
             "LICORICE-IT": (DO_X, DO_R_IT, DO_R_IT_LO, DO_R_IT_HI),
             "LICORICE": (DO_X, DO_R_LIC, DO_R_LIC_LO, DO_R_LIC_HI)},
    (2, 1): {"LICORICE-DE": (CP_X, CP_E_DE, CP_E_DE_LO, CP_E_DE_HI),
             "LICORICE-AC": (CP_X, CP_E_AC, CP_E_AC_LO, CP_E_AC_HI),
             "LICORICE-IT": (CP_X, CP_E_IT, CP_E_IT_LO, CP_E_IT_HI),
             "LICORICE": (CP_X, CP_E_LIC, CP_E_LIC_LO, CP_E_LIC_HI)},
    (2, 2): {"LICORICE-DE": (DK_X, DK_E_DE, DK_E_DE_LO, DK_E_DE_HI),
             "LICORICE-AC": (DK_X, DK_E_AC, DK_E_AC_LO, DK_E_AC_HI),
             "LICORICE-IT": (DK_X, DK_E_IT, DK_E_IT_LO, DK_E_IT_HI),
             "LICORICE": (DK_X, DK_E_LIC, DK_E_LIC_LO, DK_E_LIC_HI)},
    (2, 3): {"LICORICE-DE": (DO_EX_SHORT, DO_E_DE, None, None),
             "LICORICE-AC": (DO_EX, DO_E_AC, DO_E_AC_LO, DO_E_AC_HI),
             "LICORICE-IT": (DO_EX_SHORT, DO_E_IT, None, None),
             "LICORICE": (DO_EX_SHORT, DO_E_LIC, None, None)},
}

for key, panel in PANELS.items():
    for name, (xs, m, lo, hi) in panel.items():
        for arr in (m, lo, hi):
            if arr is not None and len(arr) != len(xs):
                raise ValueError(f"length mismatch {key} {name}: {len(arr)} vs {len(xs)}")


def rgba(c, a):
    return f"rgba({c[0]},{c[1]},{c[2]},{a})"


fig = make_subplots(rows=2, cols=3)

for (r, c), panel in PANELS.items():
    for name in SERIES:
        xs, m, lo, hi = panel[name]
        col = COLORS[name]
        if lo is not None:
            fig.add_trace(go.Scatter(
                x=list(xs) + list(xs)[::-1], y=list(hi) + list(lo)[::-1],
                fill="toself", fillcolor=rgba(col, 0.18 if name != "LICORICE-IT" else 0.3),
                line=dict(width=0), mode="lines", hoverinfo="skip",
                showlegend=False, legendgroup=name), row=r, col=c)
        fig.add_trace(go.Scatter(
            x=xs, y=m, mode="lines", name=name, legendgroup=name,
            line=dict(color=rgba(col, 0.95), width=1.6),
            showlegend=(r == 1 and c == 1)), row=r, col=c)

# ---------------- layout ----------------
W, H = 1295, 509
ML, MR, MT, MB = 80, 3, 30, 97
PW, PH = W - ML - MR, H - MT - MB
col_px = [(0, 382), (415, 797), (830, 1212)]
row_px = [(0, 173), (210, 382)]  # from top of plot area

AX_COLOR = "#333333"
TICK_FONT = dict(family="DejaVu Sans", size=17, color="black")
LABEL_FONT = dict(family="DejaVu Sans", size=22, color="black")


def py(px_from_top):
    """paper y coordinate for a pixel row of the figure"""
    return (H - MB - px_from_top) / PH


for r in (1, 2):
    for c in (1, 2, 3):
        x0, x1 = col_px[c - 1]
        y0, y1 = row_px[r - 1]
        xdom = [x0 / PW, x1 / PW]
        ydom = [1 - y1 / PH, 1 - y0 / PH]
        if c < 3:
            xr = [0, 2.045]
            tv = [0, 0.5, 1.0, 1.5, 2.0]
            tt = ["0.0", "0.5", "1.0", "1.5", "2.0"]
        else:
            xr = [0, 9.97]
            tv = [0, 2, 4, 6, 8]
            tt = ["0", "2", "4", "6", "8"]
        fig.update_xaxes(row=r, col=c, domain=xdom, range=xr, tickvals=tv, ticktext=tt,
                         showticklabels=(r == 2), ticks="outside", ticklen=5, tickwidth=1,
                         ticklabelstandoff=-3,
                         tickcolor=AX_COLOR, showline=True, linecolor=AX_COLOR, linewidth=1,
                         mirror=True, showgrid=False, zeroline=False, tickfont=TICK_FONT)
        fig.update_yaxes(row=r, col=c, domain=ydom, range=[0, 1],
                         tickvals=[0, 0.25, 0.5, 0.75, 1.0],
                         ticktext=["0.00", "0.25", "0.50", "0.75", "1.00"],
                         showticklabels=(c == 1), ticks="outside", ticklen=5, tickwidth=1,
                         tickcolor=AX_COLOR, showline=True, linecolor=AX_COLOR, linewidth=1,
                         mirror=True, showgrid=False, zeroline=False, tickfont=TICK_FONT,
                         title=dict(text=("Reward" if r == 1 else "c Error") if c == 1 else "",
                                    font=LABEL_FONT, standoff=1))

annotations = []
for i, t in enumerate(TITLES):
    x0, x1 = col_px[i]
    annotations.append(dict(text=t, x=(x0 + x1) / 2 / PW, y=1.0, xref="paper", yref="paper",
                            xanchor="center", yanchor="bottom", showarrow=False, yshift=-3,
                            font=dict(family="DejaVu Sans", size=22, color="black")))
    annotations.append(dict(text="Environment Steps", x=(x0 + x1) / 2 / PW, y=py(451),
                            xref="paper", yref="paper", xanchor="center", yanchor="middle",
                            showarrow=False, font=LABEL_FONT))
for i, t in enumerate(["1e6", "1e6", "1e5"]):
    x0, x1 = col_px[i]
    annotations.append(dict(text=t, x=x1 / PW, y=py(445), xref="paper", yref="paper",
                            xanchor="right", yanchor="middle", showarrow=False,
                            font=dict(family="DejaVu Sans", size=10, color="black")))

fig.update_layout(
    width=W, height=H,
    margin=dict(l=ML, r=MR, t=MT, b=MB, autoexpand=False),
    plot_bgcolor="white", paper_bgcolor="white",
    font=dict(family="DejaVu Sans", color="black"),
    annotations=annotations,
    legend=dict(orientation="h", x=(264 - ML) / PW, xanchor="left", y=py(498),
                yanchor="middle", font=dict(family="DejaVu Sans", size=17, color="black"),
                itemwidth=48, entrywidth=141, bgcolor="rgba(0,0,0,0)"),
    hovermode=False,
)

fig.write_html("out.html", config={"displayModeBar": False},
               post_script="document.body.style.margin='0';document.body.style.overflow='hidden';")
